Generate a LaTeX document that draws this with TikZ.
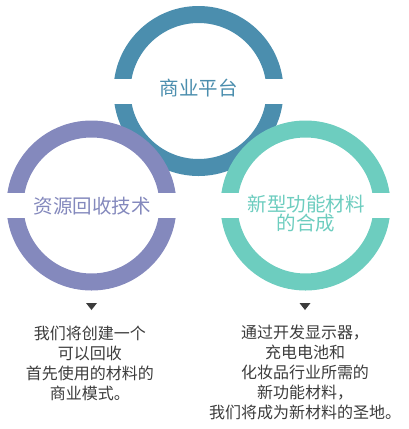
\documentclass[tikz,border=0pt]{standalone}
\usepackage{fontspec}
\setmainfont{Noto Sans CJK SC}
\usepackage{tikz}
\usepackage{xcolor}
\usetikzlibrary{positioning}
\definecolor{rgblue}{HTML}{4B8EAE}
\definecolor{rgpurple}{HTML}{8489BD}
\definecolor{rgteal}{HTML}{6DCDBF}
\definecolor{rgink}{HTML}{3C3C3C}
\tikzset{
  ringNode/.style={circle, draw=#1, line width=17pt, minimum size=153pt, inner sep=0pt},
  gapBand/.style={fill=white, minimum width=176pt, minimum height=25pt, inner sep=0pt},
  ringLabel/.style={text=#1, align=center, inner sep=0pt, font=\fontsize{19.5}{19.5}\selectfont},
  bodyText/.style={text=rgink, align=center, inner sep=0pt, anchor=north, font=\fontsize{16}{20}\selectfont},
  markTip/.style={fill=rgink}
}
\begin{document}
\begin{tikzpicture}[x=1pt,y=-1pt]
  \useasboundingbox (0,0) rectangle (408,429);
  % top ring
  \node[ringNode=rgblue] (topRing) at (198.5,91) {};
  \node[gapBand] (topGap) at (topRing.center) {};
  \node[ringLabel=rgblue] (topLabel) at (198.5,88) {商业平台};
  % lower rings
  \node[ringNode=rgpurple] (leftRing) at (91.5,205.5) {};
  \node[gapBand] (leftGap) at (leftRing.center) {};
  \node[ringLabel=rgpurple] (leftLabel) at (92.5,206.5) {资源回收技术};
  \node[ringNode=rgteal] (rightRing) at (305.5,205.5) {};
  \node[gapBand] (rightGap) at (rightRing.center) {};
  \node[ringLabel=rgteal] (rightLabel) at (306,213.5) {新型功能材料\\的合成};
  % markers
  \coordinate (leftTip) at (91.5,310);
  \coordinate (rightTip) at (305,310);
  \foreach \tip in {leftTip,rightTip}
    \fill[markTip] (\tip) -- ++(-5.5,-7) -- ++(11,0) -- cycle;
  % descriptions
  \node[bodyText] (leftText) at (90,325.5) {我们将创建一个\\可以回收\\首先使用的材料的\\商业模式。};
  \node[bodyText] (rightText) at (305,324.5) {通过开发显示器，\\充电电池和\\化妆品行业所需的\\新功能材料，\\我们将成为新材料的圣地。};
\end{tikzpicture}
\end{document}
